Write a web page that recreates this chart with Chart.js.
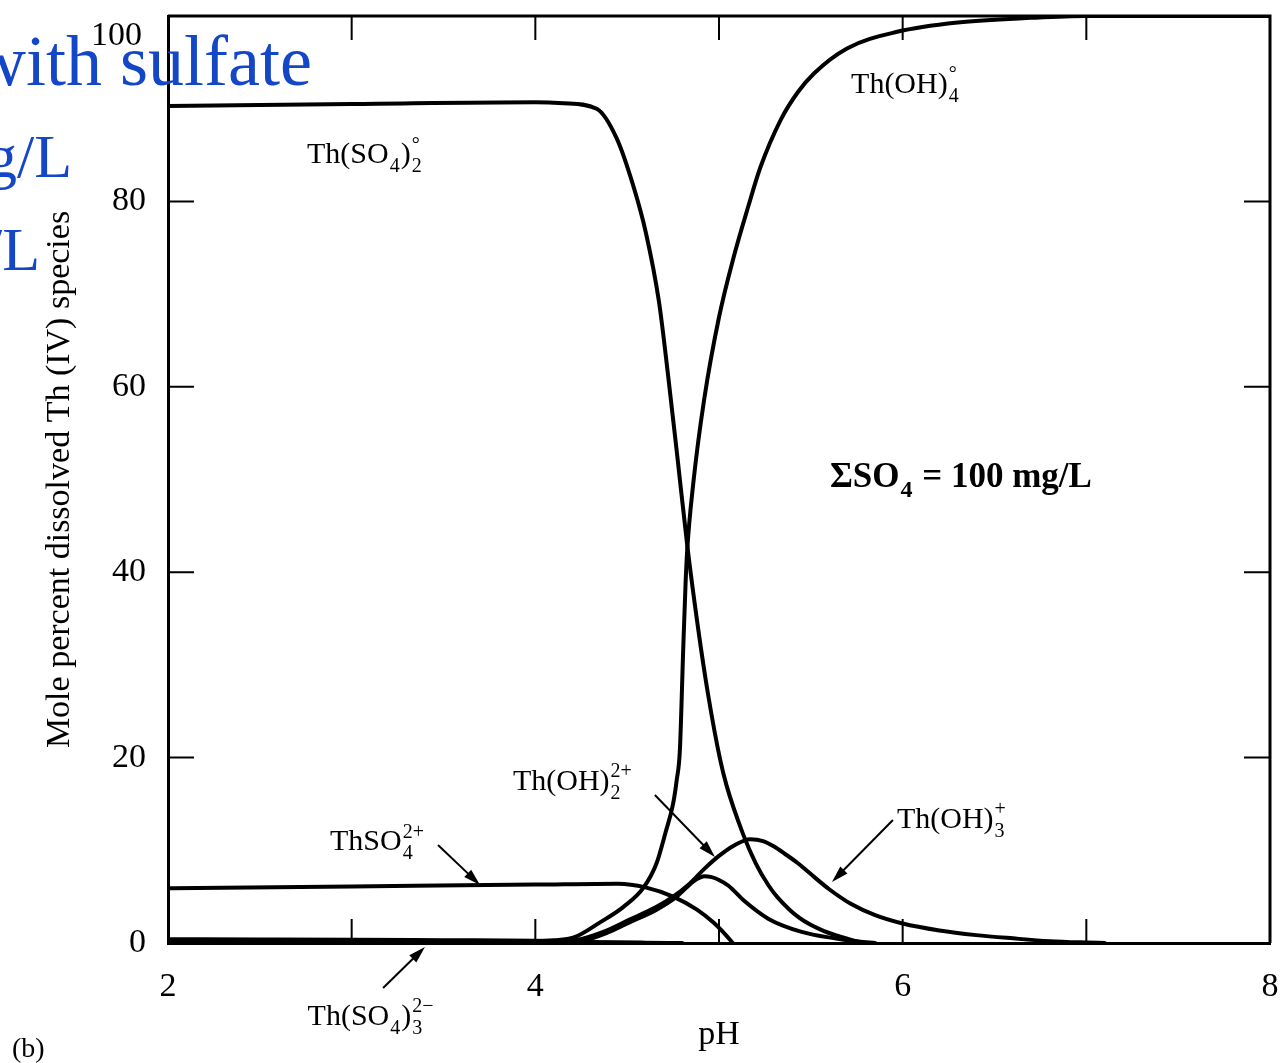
<!DOCTYPE html>
<html>
<head>
<meta charset="utf-8">
<title>Th(IV) speciation with sulfate</title>
<script src="https://cdn.jsdelivr.net/npm/chart.js@4.4.1/dist/chart.umd.min.js"></script>
<style>
    html, body { margin: 0; padding: 0; background: #fff; }
    #wrap { width: 1285px; height: 1063px; }
</style>
</head>
<body>
<div id="wrap"><canvas id="speciation" width="1285" height="1063"></canvas></div>
<script>
// Mole percent of dissolved Th(IV) species vs pH, sum SO4 = 100 mg/L

// Th(SO4)2 (neutral)
const phThSO4_2 = [2.0, 3.0, 4.0, 4.154, 4.334, 4.443, 4.533, 4.601, 4.673, 4.723, 4.773, 4.827, 4.888, 4.939, 5.006, 5.041, 5.13, 5.20, 5.27, 5.32, 5.438, 5.569, 5.711, 5.78];
const pctThSO4_2 = [90.3, 90.5, 90.7, 90.6, 90.0, 86.8, 81.7, 76.7, 69.2, 61.2, 52.5, 42.9, 33.7, 27.0, 19.8, 17.0, 11.8, 8.6, 6.2, 4.9, 2.7, 1.3, 0.4, 0.0];

// Th(OH)4 (neutral)
const phThOH4 = [2.0, 3.0, 3.8, 4.10, 4.21, 4.35, 4.48, 4.59, 4.66, 4.71, 4.75, 4.770, 4.787, 4.805, 4.818, 4.827, 4.860, 4.919, 5.00, 5.08, 5.16, 5.224, 5.336, 5.43, 5.517, 5.697, 5.97, 6.30, 6.70, 7.00, 8.00];
const pctThOH4 = [0.0, 0.0, 0.1, 0.3, 0.6, 2.2, 3.9, 6.0, 8.6, 12.0, 15.0, 17.6, 20.8, 31.6, 38.8, 42.4, 49.6, 58.6, 67.5, 74.0, 79.5, 83.6, 88.8, 91.8, 93.8, 96.5, 98.3, 99.3, 99.8, 100, 100];

// ThSO4 2+
const phThSO4 = [2.0, 3.0, 4.0, 4.45, 4.60, 4.75, 4.88, 4.97, 5.04, 5.075];
const pctThSO4 = [5.9, 6.1, 6.3, 6.4, 6.0, 5.0, 3.6, 2.2, 0.8, 0.0];

// Th(OH)2 2+
const phThOH2 = [4.0, 4.22, 4.39, 4.51, 4.66, 4.77, 4.84, 4.88, 4.92, 4.96, 5.00, 5.05, 5.14, 5.27, 5.45, 5.63, 5.76, 5.85];
const pctThOH2 = [0.0, 0.1, 1.1, 2.2, 3.6, 5.0, 6.3, 6.9, 7.2, 7.1, 6.8, 6.2, 4.5, 2.6, 1.2, 0.5, 0.15, 0.0];

// Th(OH)3 +
const phThOH3 = [4.0, 4.22, 4.37, 4.51, 4.66, 4.75, 4.84, 4.92, 5.00, 5.08, 5.17, 5.24, 5.30, 5.36, 5.43, 5.49, 5.60, 5.72, 5.85, 6.00, 6.20, 6.40, 6.60, 6.80, 7.00, 7.10];
const pctThOH3 = [0.0, 0.3, 1.2, 2.5, 3.9, 5.0, 6.4, 8.0, 9.4, 10.5, 11.2, 11.0, 10.4, 9.6, 8.6, 7.6, 5.8, 4.2, 3.0, 2.1, 1.35, 0.85, 0.5, 0.2, 0.05, 0.0];

// Th(SO4)3 2-
const phThSO4_3 = [2.0, 2.5, 3.0, 3.5, 4.0, 4.3, 4.6, 4.8];
const pctThSO4_3 = [0.4, 0.38, 0.35, 0.3, 0.25, 0.12, 0.04, 0.0];

// axis ticks
const xTickLabels = [2, 4, 6, 8];
const xTickMarks = [3, 4, 5, 6, 7];
const yTickMarks = [20, 40, 60, 80];

const SERIF = '"Liberation Serif", "Times New Roman", serif';
Chart.defaults.font.family = SERIF;
Chart.defaults.color = '#000';

function series(label, ph, pct) {
    return {
        label: label,
        data: ph.map((p, i) => ({ x: p, y: pct[i] })),
        borderColor: '#000',
        backgroundColor: 'transparent',
        borderWidth: 4,
        pointRadius: 0,
        fill: false,
        cubicInterpolationMode: 'monotone',
        borderCapStyle: 'round',
        borderJoinStyle: 'round'
    };
}

// species labels: anchor in data units (pH, %), parts = text runs / {sup, sub}
const speciesLabels = [
    { x: 2.757, y: 84.1, parts: ['Th(SO', { sub: '4' }, ')', { sup: '\u00b0', sub: '2' }] },
    { x: 5.719, y: 91.7, parts: ['Th(OH)', { sup: '\u00b0', sub: '4' }] },
    { x: 3.878, y: 16.5, parts: ['Th(OH)', { sup: '2+', sub: '2' }] },
    { x: 5.969, y: 12.4, parts: ['Th(OH)', { sup: '+', sub: '3' }] },
    { x: 2.882, y: 10.0, parts: ['ThSO', { sup: '2+', sub: '4' }] },
    { x: 2.760, y: -8.85, parts: ['Th(SO', { sub: '4' }, ')', { sup: '2\u2212', sub: '3' }] }
];

// arrows: [fromPH, fromPct, toPH, toPct]
const arrows = [
    [3.470, 10.57, 3.699, 6.26],
    [3.171, -4.85, 3.399, -0.43],
    [4.651, 15.97, 4.978, 9.28],
    [5.947, 13.27, 5.615, 6.58]
];

function drawChem(ctx, x0, y0, parts, size, bold) {
    const w = bold ? 'bold ' : '';
    const big = w + size + 'px ' + SERIF;
    const small = w + Math.round(size * 0.68) + 'px ' + SERIF;
    let x = x0;
    ctx.textAlign = 'left';
    ctx.textBaseline = 'alphabetic';
    parts.forEach(p => {
        if (typeof p === 'string') {
            ctx.font = big;
            ctx.fillText(p, x, y0);
            x += ctx.measureText(p).width;
        } else {
            ctx.font = small;
            let adv = 0;
            if (p.sup) {
                ctx.fillText(p.sup, x + 1, y0 - size * 0.42);
                adv = Math.max(adv, ctx.measureText(p.sup).width);
            }
            if (p.sub) {
                ctx.fillText(p.sub, x + 1, y0 + size * 0.3);
                adv = Math.max(adv, ctx.measureText(p.sub).width);
            }
            x += adv + 2;
        }
    });
}

function drawArrow(ctx, x1, y1, x2, y2) {
    const ang = Math.atan2(y2 - y1, x2 - x1);
    const len = 17, half = 5;
    ctx.beginPath();
    ctx.moveTo(x1, y1);
    ctx.lineTo(x2 - Math.cos(ang) * len * 0.8, y2 - Math.sin(ang) * len * 0.8);
    ctx.stroke();
    ctx.beginPath();
    ctx.moveTo(x2, y2);
    ctx.lineTo(x2 - Math.cos(ang) * len + Math.sin(ang) * half, y2 - Math.sin(ang) * len - Math.cos(ang) * half);
    ctx.lineTo(x2 - Math.cos(ang) * len - Math.sin(ang) * half, y2 - Math.sin(ang) * len + Math.cos(ang) * half);
    ctx.closePath();
    ctx.fill();
}

// closes the box and draws inward ticks on all four sides
const framePlugin = {
    id: 'frame',
    afterDatasetsDraw(chart) {
        const { ctx, chartArea: a, scales: { x, y } } = chart;
        ctx.save();
        ctx.strokeStyle = '#000';
        ctx.lineWidth = 3;
        ctx.beginPath();
        ctx.moveTo(a.left, a.top);
        ctx.lineTo(a.right, a.top);
        ctx.lineTo(a.right, a.bottom);
        ctx.stroke();

        ctx.lineWidth = 2;
        ctx.beginPath();
        xTickMarks.forEach(v => {
            const px = x.getPixelForValue(v);
            ctx.moveTo(px, a.bottom);
            ctx.lineTo(px, a.bottom - 24);
            ctx.moveTo(px, a.top);
            ctx.lineTo(px, a.top + 24);
        });
        yTickMarks.forEach(v => {
            const py = y.getPixelForValue(v);
            ctx.moveTo(a.left, py);
            ctx.lineTo(a.left + 26, py);
            ctx.moveTo(a.right, py);
            ctx.lineTo(a.right - 26, py);
        });
        ctx.stroke();
        ctx.restore();
    }
};

const annotationPlugin = {
    id: 'annotations',
    afterDraw(chart) {
        const { ctx, chartArea: a, scales: { x, y } } = chart;
        ctx.save();
        ctx.fillStyle = '#000';
        ctx.strokeStyle = '#000';

        // top y label sits a little below the frame in the original
        ctx.font = '34px ' + SERIF;
        ctx.textAlign = 'right';
        ctx.textBaseline = 'middle';
        ctx.fillText('100', a.left - 26, y.getPixelForValue(100) + 20);

        speciesLabels.forEach(l => {
            drawChem(ctx, x.getPixelForValue(l.x), y.getPixelForValue(l.y), l.parts, 30, false);
        });

        // total sulfate note
        drawChem(ctx, x.getPixelForValue(5.604), y.getPixelForValue(49.2),
            ['\u03a3SO', { sub: '4' }, ' = 100 mg/L'], 35, true);

        ctx.lineWidth = 2;
        arrows.forEach(r => {
            drawArrow(ctx, x.getPixelForValue(r[0]), y.getPixelForValue(r[1]),
                x.getPixelForValue(r[2]), y.getPixelForValue(r[3]));
        });

        // panel letter
        ctx.font = '28px ' + SERIF;
        ctx.textAlign = 'left';
        ctx.textBaseline = 'alphabetic';
        ctx.fillText('(b)', 12, 1057);

        // slide title text bleeding over the left edge
        ctx.fillStyle = '#1447c8';
        ctx.textAlign = 'right';
        ctx.font = '72px ' + SERIF;
        ctx.fillText('with sulfate', 312, 85);
        ctx.font = '62px ' + SERIF;
        ctx.fillText('mg/L', 72, 177);
        ctx.fillText('mg/L', 40, 270);
        ctx.restore();
    }
};

new Chart(document.getElementById('speciation'), {
    type: 'line',
    data: {
        datasets: [
            series('Th(SO4)2', phThSO4_2, pctThSO4_2),
            series('Th(OH)4', phThOH4, pctThOH4),
            series('ThSO4 2+', phThSO4, pctThSO4),
            series('Th(OH)2 2+', phThOH2, pctThOH2),
            series('Th(OH)3 +', phThOH3, pctThOH3),
            series('Th(SO4)3 2-', phThSO4_3, pctThSO4_3)
        ]
    },
    options: {
        responsive: false,
        animation: false,
        layout: { padding: { left: 0, top: 16, right: 15, bottom: 0 } },
        plugins: {
            legend: { display: false },
            tooltip: { enabled: false }
        },
        scales: {
            x: {
                type: 'linear',
                min: 2,
                max: 8,
                grid: { display: false, drawTicks: false },
                border: { display: true, color: '#000', width: 3 },
                afterBuildTicks: s => { s.ticks = xTickLabels.map(v => ({ value: v })); },
                ticks: {
                    color: '#000',
                    padding: 24,
                    maxRotation: 0,
                    autoSkip: false,
                    font: { size: 34 }
                },
                title: {
                    display: true,
                    text: 'pH',
                    color: '#000',
                    font: { size: 34 },
                    padding: { top: 0, bottom: 8 }
                },
                afterFit: s => {
                    s.height = 120;
                    s.paddingLeft = 0;
                    s.paddingRight = 0;
                }
            },
            y: {
                min: 0,
                max: 100,
                grid: { display: false, drawTicks: false },
                border: { display: true, color: '#000', width: 3 },
                ticks: {
                    stepSize: 20,
                    color: '#000',
                    padding: 22,
                    font: { size: 34 },
                    callback: v => (v === 100 ? '' : v)
                },
                title: {
                    display: true,
                    text: 'Mole percent dissolved Th (IV) species',
                    color: '#000',
                    font: { size: 34 },
                    padding: { top: 40, bottom: 0 }
                },
                afterFit: s => {
                    s.width = 168;
                    s.paddingTop = 0;
                    s.paddingBottom = 0;
                }
            }
        }
    },
    plugins: [framePlugin, annotationPlugin]
});
</script>
</body>
</html>
